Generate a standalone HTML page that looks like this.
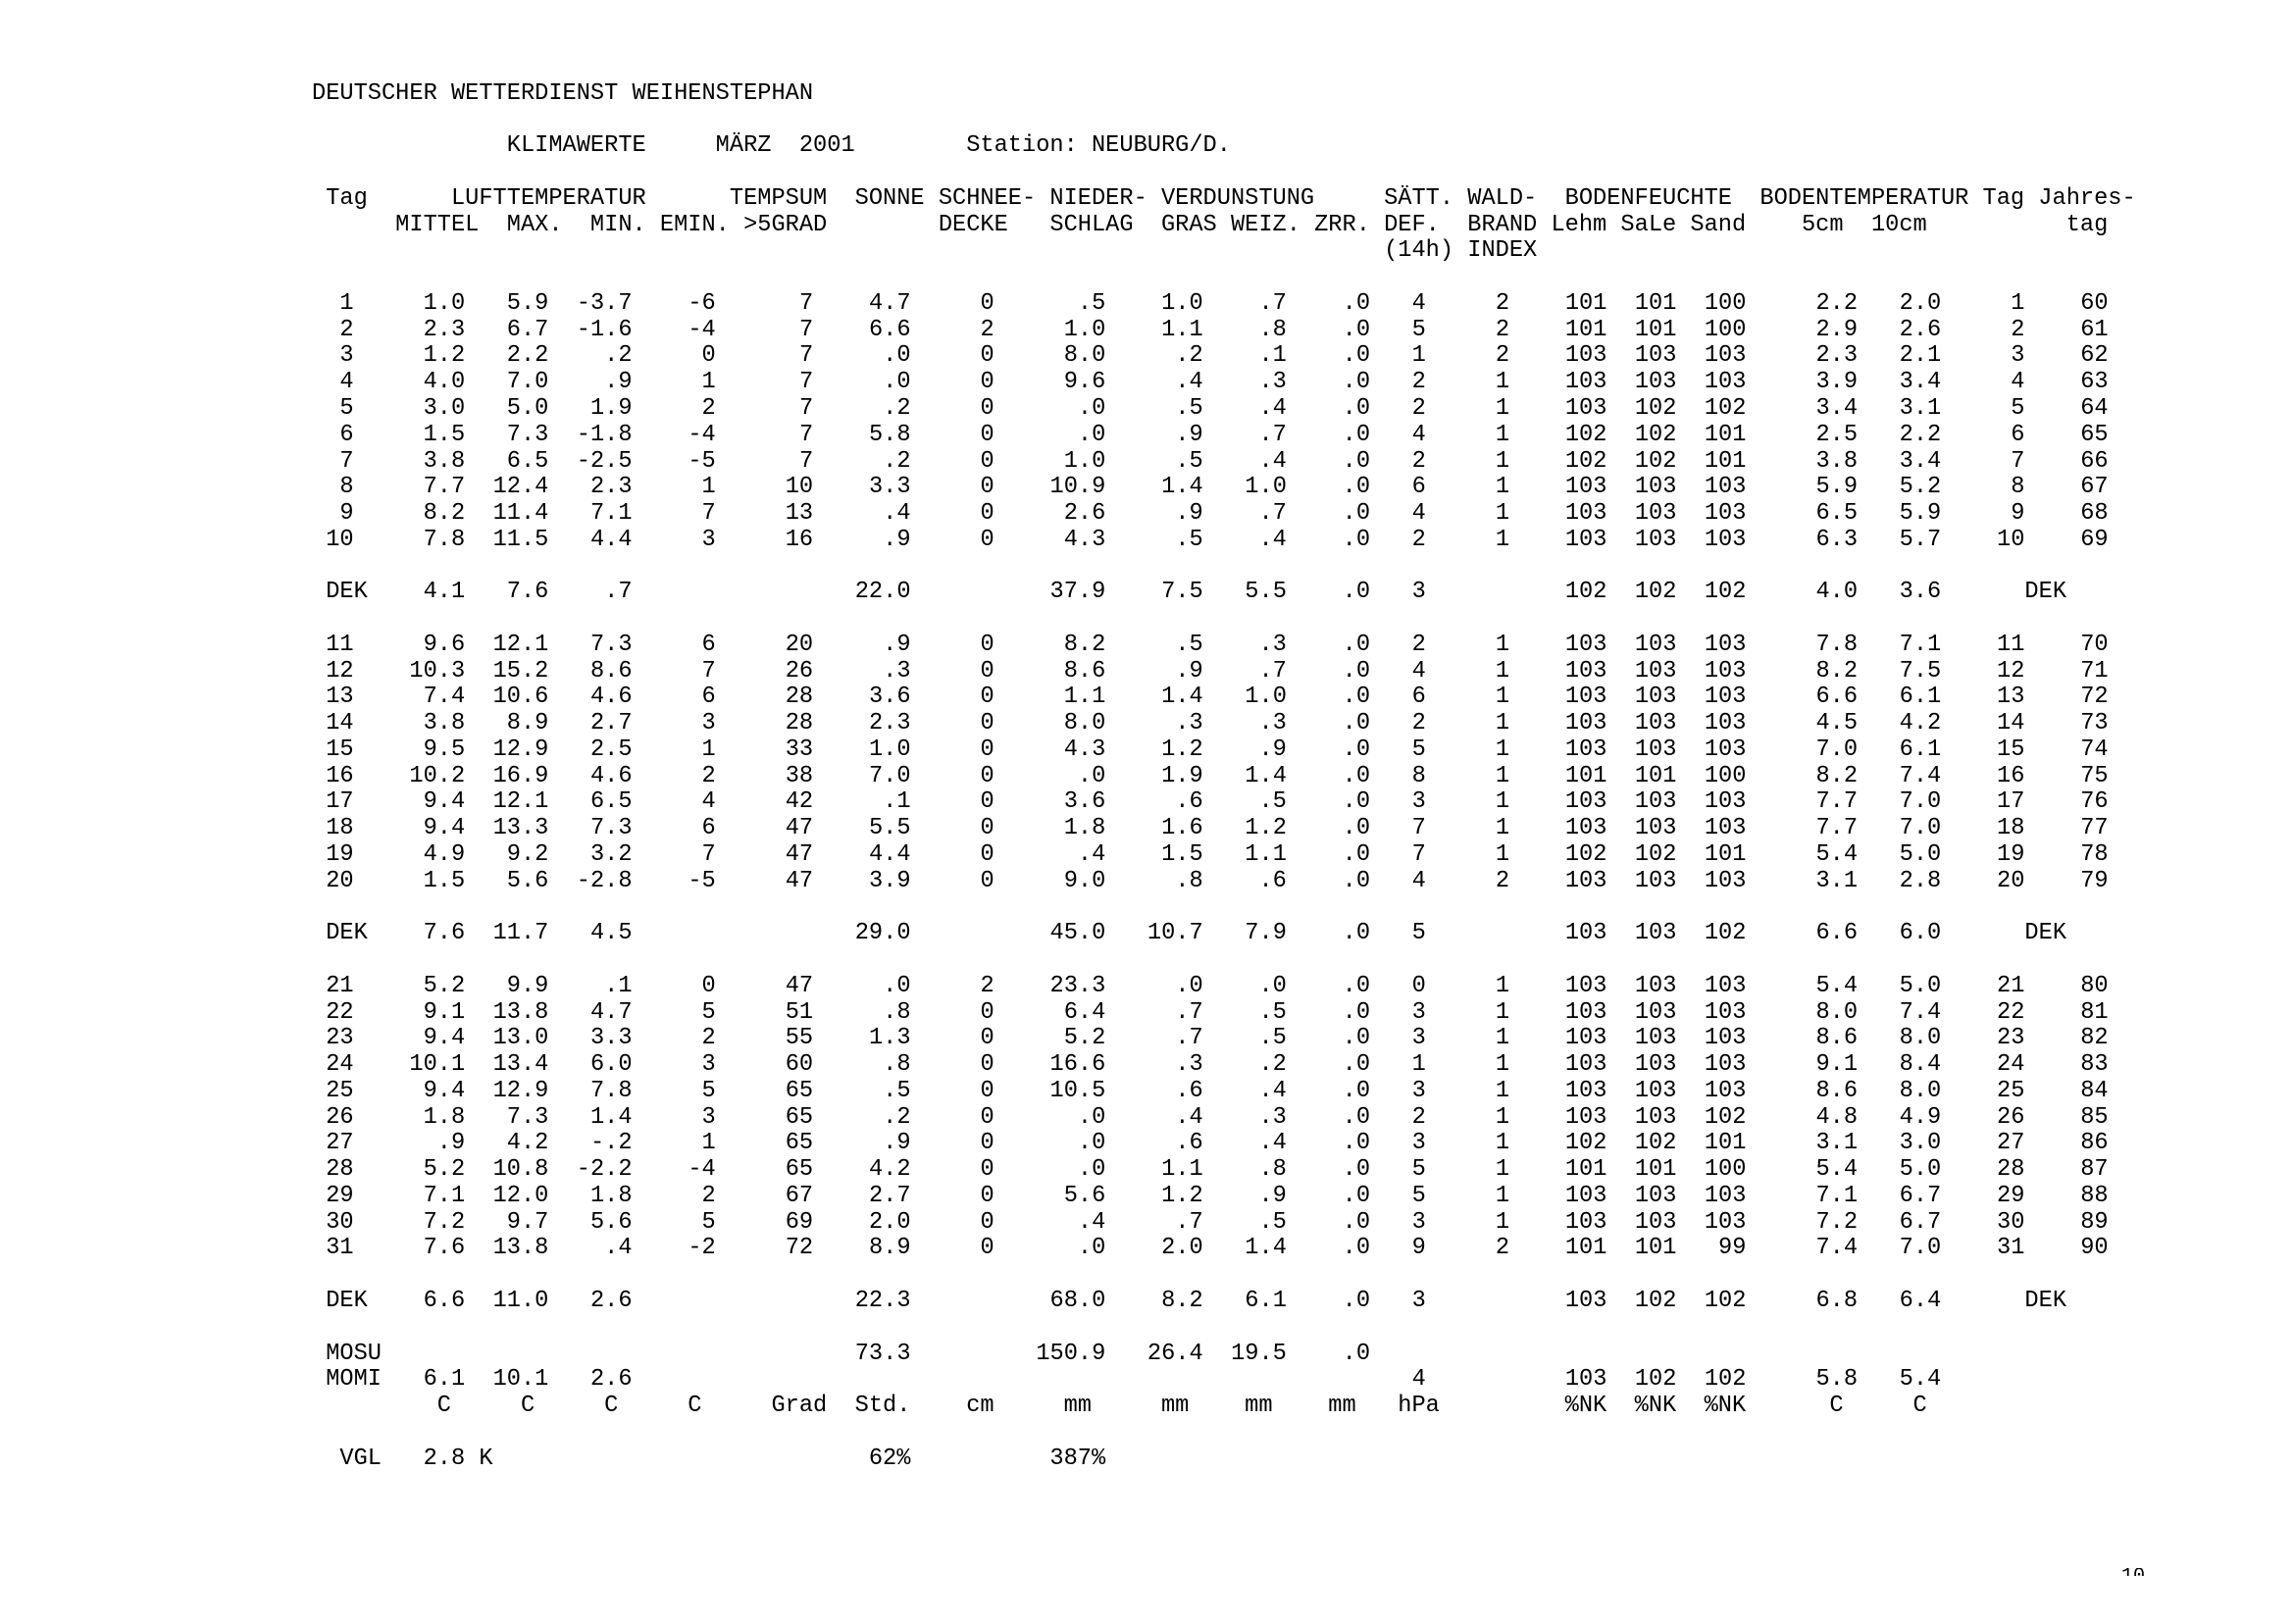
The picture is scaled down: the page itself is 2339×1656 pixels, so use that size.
<!DOCTYPE html>
<html>
<head>
<meta charset="utf-8">
<style>
html,body{margin:0;padding:0;background:#fff;}
body{width:2339px;height:1656px;position:relative;overflow:hidden;}
#doc{position:absolute;left:318px;top:82.8px;font-family:"Liberation Mono","DejaVu Sans Mono",monospace;font-size:23.67px;color:#000;}
#doc div{height:26.77px;line-height:26.77px;white-space:pre;}
.r{display:flex;}
.r i{font-style:normal;flex:0 0 auto;text-align:right;white-space:pre;overflow:visible;}
.r i:nth-child(1){width:42.6px}
.r i:nth-child(2){width:113.6px}
.r i:nth-child(3){width:85.2px}
.r i:nth-child(4){width:85.2px}
.r i:nth-child(5){width:85.2px}
.r i:nth-child(6){width:99.4px}
.r i:nth-child(7){width:99.4px}
.r i:nth-child(8){width:85.2px}
.r i:nth-child(9){width:113.6px}
.r i:nth-child(10){width:99.4px}
.r i:nth-child(11){width:85.2px}
.r i:nth-child(12){width:85.2px}
.r i:nth-child(13){width:56.8px}
.r i:nth-child(14){width:85.2px}
.r i:nth-child(15){width:99.4px}
.r i:nth-child(16){width:71px}
.r i:nth-child(17){width:71px}
.r i:nth-child(18){width:113.6px}
.r i:nth-child(19){width:85.2px}
.r i:nth-child(20){width:85.2px}
.r i:nth-child(21){width:85.2px}
.r i.l{text-align:left;text-indent:14.2px;}
.r i.L{text-align:left;}
#pg{position:absolute;left:2163px;top:1599px;width:60px;height:8px;overflow:hidden;}
#pg span{position:absolute;left:0;top:-1.3px;font-family:"Liberation Mono",monospace;font-size:20px;line-height:20px;color:#000;}
</style>
</head>
<body>
<div id="doc">
<div>DEUTSCHER WETTERDIENST WEIHENSTEPHAN</div>
<div></div>
<div>              KLIMAWERTE     MÄRZ  2001        Station: NEUBURG/D.</div>
<div></div>
<div> Tag      LUFTTEMPERATUR      TEMPSUM  SONNE SCHNEE- NIEDER- VERDUNSTUNG     SÄTT. WALD-  BODENFEUCHTE  BODENTEMPERATUR Tag Jahres-</div>
<div>      MITTEL  MAX.  MIN. EMIN. >5GRAD        DECKE   SCHLAG  GRAS WEIZ. ZRR. DEF.  BRAND Lehm SaLe Sand    5cm  10cm          tag</div>
<div>                                                                             (14h) INDEX</div>
<div></div>
<div class="r"><i>1</i><i>1.0</i><i>5.9</i><i>-3.7</i><i>-6</i><i>7</i><i>4.7</i><i>0</i><i>.5</i><i>1.0</i><i>.7</i><i>.0</i><i>4</i><i>2</i><i>101</i><i>101</i><i>100</i><i>2.2</i><i>2.0</i><i>1</i><i>60</i></div>
<div class="r"><i>2</i><i>2.3</i><i>6.7</i><i>-1.6</i><i>-4</i><i>7</i><i>6.6</i><i>2</i><i>1.0</i><i>1.1</i><i>.8</i><i>.0</i><i>5</i><i>2</i><i>101</i><i>101</i><i>100</i><i>2.9</i><i>2.6</i><i>2</i><i>61</i></div>
<div class="r"><i>3</i><i>1.2</i><i>2.2</i><i>.2</i><i>0</i><i>7</i><i>.0</i><i>0</i><i>8.0</i><i>.2</i><i>.1</i><i>.0</i><i>1</i><i>2</i><i>103</i><i>103</i><i>103</i><i>2.3</i><i>2.1</i><i>3</i><i>62</i></div>
<div class="r"><i>4</i><i>4.0</i><i>7.0</i><i>.9</i><i>1</i><i>7</i><i>.0</i><i>0</i><i>9.6</i><i>.4</i><i>.3</i><i>.0</i><i>2</i><i>1</i><i>103</i><i>103</i><i>103</i><i>3.9</i><i>3.4</i><i>4</i><i>63</i></div>
<div class="r"><i>5</i><i>3.0</i><i>5.0</i><i>1.9</i><i>2</i><i>7</i><i>.2</i><i>0</i><i>.0</i><i>.5</i><i>.4</i><i>.0</i><i>2</i><i>1</i><i>103</i><i>102</i><i>102</i><i>3.4</i><i>3.1</i><i>5</i><i>64</i></div>
<div class="r"><i>6</i><i>1.5</i><i>7.3</i><i>-1.8</i><i>-4</i><i>7</i><i>5.8</i><i>0</i><i>.0</i><i>.9</i><i>.7</i><i>.0</i><i>4</i><i>1</i><i>102</i><i>102</i><i>101</i><i>2.5</i><i>2.2</i><i>6</i><i>65</i></div>
<div class="r"><i>7</i><i>3.8</i><i>6.5</i><i>-2.5</i><i>-5</i><i>7</i><i>.2</i><i>0</i><i>1.0</i><i>.5</i><i>.4</i><i>.0</i><i>2</i><i>1</i><i>102</i><i>102</i><i>101</i><i>3.8</i><i>3.4</i><i>7</i><i>66</i></div>
<div class="r"><i>8</i><i>7.7</i><i>12.4</i><i>2.3</i><i>1</i><i>10</i><i>3.3</i><i>0</i><i>10.9</i><i>1.4</i><i>1.0</i><i>.0</i><i>6</i><i>1</i><i>103</i><i>103</i><i>103</i><i>5.9</i><i>5.2</i><i>8</i><i>67</i></div>
<div class="r"><i>9</i><i>8.2</i><i>11.4</i><i>7.1</i><i>7</i><i>13</i><i>.4</i><i>0</i><i>2.6</i><i>.9</i><i>.7</i><i>.0</i><i>4</i><i>1</i><i>103</i><i>103</i><i>103</i><i>6.5</i><i>5.9</i><i>9</i><i>68</i></div>
<div class="r"><i>10</i><i>7.8</i><i>11.5</i><i>4.4</i><i>3</i><i>16</i><i>.9</i><i>0</i><i>4.3</i><i>.5</i><i>.4</i><i>.0</i><i>2</i><i>1</i><i>103</i><i>103</i><i>103</i><i>6.3</i><i>5.7</i><i>10</i><i>69</i></div>
<div></div>
<div class="r"><i class="l">DEK</i><i>4.1</i><i>7.6</i><i>.7</i><i></i><i></i><i>22.0</i><i></i><i>37.9</i><i>7.5</i><i>5.5</i><i>.0</i><i>3</i><i></i><i>102</i><i>102</i><i>102</i><i>4.0</i><i>3.6</i><i></i><i class="L">DEK</i></div>
<div></div>
<div class="r"><i>11</i><i>9.6</i><i>12.1</i><i>7.3</i><i>6</i><i>20</i><i>.9</i><i>0</i><i>8.2</i><i>.5</i><i>.3</i><i>.0</i><i>2</i><i>1</i><i>103</i><i>103</i><i>103</i><i>7.8</i><i>7.1</i><i>11</i><i>70</i></div>
<div class="r"><i>12</i><i>10.3</i><i>15.2</i><i>8.6</i><i>7</i><i>26</i><i>.3</i><i>0</i><i>8.6</i><i>.9</i><i>.7</i><i>.0</i><i>4</i><i>1</i><i>103</i><i>103</i><i>103</i><i>8.2</i><i>7.5</i><i>12</i><i>71</i></div>
<div class="r"><i>13</i><i>7.4</i><i>10.6</i><i>4.6</i><i>6</i><i>28</i><i>3.6</i><i>0</i><i>1.1</i><i>1.4</i><i>1.0</i><i>.0</i><i>6</i><i>1</i><i>103</i><i>103</i><i>103</i><i>6.6</i><i>6.1</i><i>13</i><i>72</i></div>
<div class="r"><i>14</i><i>3.8</i><i>8.9</i><i>2.7</i><i>3</i><i>28</i><i>2.3</i><i>0</i><i>8.0</i><i>.3</i><i>.3</i><i>.0</i><i>2</i><i>1</i><i>103</i><i>103</i><i>103</i><i>4.5</i><i>4.2</i><i>14</i><i>73</i></div>
<div class="r"><i>15</i><i>9.5</i><i>12.9</i><i>2.5</i><i>1</i><i>33</i><i>1.0</i><i>0</i><i>4.3</i><i>1.2</i><i>.9</i><i>.0</i><i>5</i><i>1</i><i>103</i><i>103</i><i>103</i><i>7.0</i><i>6.1</i><i>15</i><i>74</i></div>
<div class="r"><i>16</i><i>10.2</i><i>16.9</i><i>4.6</i><i>2</i><i>38</i><i>7.0</i><i>0</i><i>.0</i><i>1.9</i><i>1.4</i><i>.0</i><i>8</i><i>1</i><i>101</i><i>101</i><i>100</i><i>8.2</i><i>7.4</i><i>16</i><i>75</i></div>
<div class="r"><i>17</i><i>9.4</i><i>12.1</i><i>6.5</i><i>4</i><i>42</i><i>.1</i><i>0</i><i>3.6</i><i>.6</i><i>.5</i><i>.0</i><i>3</i><i>1</i><i>103</i><i>103</i><i>103</i><i>7.7</i><i>7.0</i><i>17</i><i>76</i></div>
<div class="r"><i>18</i><i>9.4</i><i>13.3</i><i>7.3</i><i>6</i><i>47</i><i>5.5</i><i>0</i><i>1.8</i><i>1.6</i><i>1.2</i><i>.0</i><i>7</i><i>1</i><i>103</i><i>103</i><i>103</i><i>7.7</i><i>7.0</i><i>18</i><i>77</i></div>
<div class="r"><i>19</i><i>4.9</i><i>9.2</i><i>3.2</i><i>7</i><i>47</i><i>4.4</i><i>0</i><i>.4</i><i>1.5</i><i>1.1</i><i>.0</i><i>7</i><i>1</i><i>102</i><i>102</i><i>101</i><i>5.4</i><i>5.0</i><i>19</i><i>78</i></div>
<div class="r"><i>20</i><i>1.5</i><i>5.6</i><i>-2.8</i><i>-5</i><i>47</i><i>3.9</i><i>0</i><i>9.0</i><i>.8</i><i>.6</i><i>.0</i><i>4</i><i>2</i><i>103</i><i>103</i><i>103</i><i>3.1</i><i>2.8</i><i>20</i><i>79</i></div>
<div></div>
<div class="r"><i class="l">DEK</i><i>7.6</i><i>11.7</i><i>4.5</i><i></i><i></i><i>29.0</i><i></i><i>45.0</i><i>10.7</i><i>7.9</i><i>.0</i><i>5</i><i></i><i>103</i><i>103</i><i>102</i><i>6.6</i><i>6.0</i><i></i><i class="L">DEK</i></div>
<div></div>
<div class="r"><i>21</i><i>5.2</i><i>9.9</i><i>.1</i><i>0</i><i>47</i><i>.0</i><i>2</i><i>23.3</i><i>.0</i><i>.0</i><i>.0</i><i>0</i><i>1</i><i>103</i><i>103</i><i>103</i><i>5.4</i><i>5.0</i><i>21</i><i>80</i></div>
<div class="r"><i>22</i><i>9.1</i><i>13.8</i><i>4.7</i><i>5</i><i>51</i><i>.8</i><i>0</i><i>6.4</i><i>.7</i><i>.5</i><i>.0</i><i>3</i><i>1</i><i>103</i><i>103</i><i>103</i><i>8.0</i><i>7.4</i><i>22</i><i>81</i></div>
<div class="r"><i>23</i><i>9.4</i><i>13.0</i><i>3.3</i><i>2</i><i>55</i><i>1.3</i><i>0</i><i>5.2</i><i>.7</i><i>.5</i><i>.0</i><i>3</i><i>1</i><i>103</i><i>103</i><i>103</i><i>8.6</i><i>8.0</i><i>23</i><i>82</i></div>
<div class="r"><i>24</i><i>10.1</i><i>13.4</i><i>6.0</i><i>3</i><i>60</i><i>.8</i><i>0</i><i>16.6</i><i>.3</i><i>.2</i><i>.0</i><i>1</i><i>1</i><i>103</i><i>103</i><i>103</i><i>9.1</i><i>8.4</i><i>24</i><i>83</i></div>
<div class="r"><i>25</i><i>9.4</i><i>12.9</i><i>7.8</i><i>5</i><i>65</i><i>.5</i><i>0</i><i>10.5</i><i>.6</i><i>.4</i><i>.0</i><i>3</i><i>1</i><i>103</i><i>103</i><i>103</i><i>8.6</i><i>8.0</i><i>25</i><i>84</i></div>
<div class="r"><i>26</i><i>1.8</i><i>7.3</i><i>1.4</i><i>3</i><i>65</i><i>.2</i><i>0</i><i>.0</i><i>.4</i><i>.3</i><i>.0</i><i>2</i><i>1</i><i>103</i><i>103</i><i>102</i><i>4.8</i><i>4.9</i><i>26</i><i>85</i></div>
<div class="r"><i>27</i><i>.9</i><i>4.2</i><i>-.2</i><i>1</i><i>65</i><i>.9</i><i>0</i><i>.0</i><i>.6</i><i>.4</i><i>.0</i><i>3</i><i>1</i><i>102</i><i>102</i><i>101</i><i>3.1</i><i>3.0</i><i>27</i><i>86</i></div>
<div class="r"><i>28</i><i>5.2</i><i>10.8</i><i>-2.2</i><i>-4</i><i>65</i><i>4.2</i><i>0</i><i>.0</i><i>1.1</i><i>.8</i><i>.0</i><i>5</i><i>1</i><i>101</i><i>101</i><i>100</i><i>5.4</i><i>5.0</i><i>28</i><i>87</i></div>
<div class="r"><i>29</i><i>7.1</i><i>12.0</i><i>1.8</i><i>2</i><i>67</i><i>2.7</i><i>0</i><i>5.6</i><i>1.2</i><i>.9</i><i>.0</i><i>5</i><i>1</i><i>103</i><i>103</i><i>103</i><i>7.1</i><i>6.7</i><i>29</i><i>88</i></div>
<div class="r"><i>30</i><i>7.2</i><i>9.7</i><i>5.6</i><i>5</i><i>69</i><i>2.0</i><i>0</i><i>.4</i><i>.7</i><i>.5</i><i>.0</i><i>3</i><i>1</i><i>103</i><i>103</i><i>103</i><i>7.2</i><i>6.7</i><i>30</i><i>89</i></div>
<div class="r"><i>31</i><i>7.6</i><i>13.8</i><i>.4</i><i>-2</i><i>72</i><i>8.9</i><i>0</i><i>.0</i><i>2.0</i><i>1.4</i><i>.0</i><i>9</i><i>2</i><i>101</i><i>101</i><i>99</i><i>7.4</i><i>7.0</i><i>31</i><i>90</i></div>
<div></div>
<div class="r"><i class="l">DEK</i><i>6.6</i><i>11.0</i><i>2.6</i><i></i><i></i><i>22.3</i><i></i><i>68.0</i><i>8.2</i><i>6.1</i><i>.0</i><i>3</i><i></i><i>103</i><i>102</i><i>102</i><i>6.8</i><i>6.4</i><i></i><i class="L">DEK</i></div>
<div></div>
<div class="r"><i class="l">MOSU</i><i></i><i></i><i></i><i></i><i></i><i>73.3</i><i></i><i>150.9</i><i>26.4</i><i>19.5</i><i>.0</i><i></i><i></i><i></i><i></i><i></i><i></i><i></i><i></i><i></i></div>
<div class="r"><i class="l">MOMI</i><i>6.1</i><i>10.1</i><i>2.6</i><i></i><i></i><i></i><i></i><i></i><i></i><i></i><i></i><i>4</i><i></i><i>103</i><i>102</i><i>102</i><i>5.8</i><i>5.4</i><i></i><i></i></div>
<div>         C     C     C     C     Grad  Std.    cm     mm     mm    mm    mm   hPa         %NK  %NK  %NK      C     C</div>
<div></div>
<div>  VGL   2.8 K                           62%          387%</div>
</div>
<div id="pg"><span>10</span></div>
</body>
</html>
